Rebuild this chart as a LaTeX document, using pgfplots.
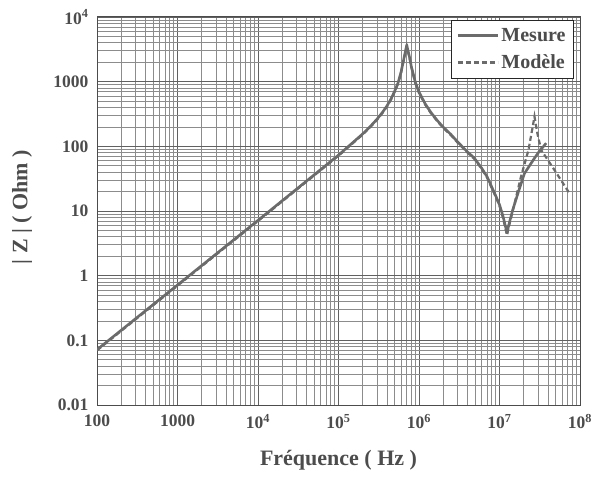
\documentclass[border=0pt]{standalone}
\usepackage{fontspec}
\setmainfont{Liberation Serif}
\usepackage{pgfplots}
\usepackage{pgfplotstable}
\pgfplotsset{compat=1.18}
\definecolor{curve}{gray}{0.42}
\definecolor{txt}{gray}{0.30}
\pgfplotstableread{
f Z
100 0.0717
1000 0.717
10000 7.17
100000 73.2
200000 156
250000 205
300000 262
350000 333
400000 422
450000 544
500000 720
550000 960
600000 1430
650000 2300
680000 3000
705000 3700
730000 3000
760000 2450
800000 1750
900000 980
1000000 692
1200000 449
1400000 337
1700000 248
2000000 198
2500000 152
3000000 118
4000000 82
4860000 66
6000000 46
7000000 34
7840000 25
9000000 17
10000000 12.5
11000000 8.5
12400000 4.6
13000000 6.0
14600000 10.4
17000000 19
20400000 38
25000000 56
29900000 78
38000000 112
}\mesure
\pgfplotstableread{
f Z
100 0.0700
1000 0.700
10000 7.00
100000 71.5
200000 152
250000 200
300000 256
350000 325
400000 412
450000 532
500000 700
550000 935
600000 1390
650000 2230
680000 2900
705000 3550
730000 2900
760000 2380
800000 1700
900000 950
1000000 670
1200000 437
1400000 328
1700000 242
2000000 193
2500000 148
3000000 115
4000000 80
4860000 64
6000000 45
7000000 33
7840000 24
9000000 16.5
10000000 12
11000000 8.0
12400000 4.2
13000000 5.6
14600000 10
18500000 34
22900000 88
25000000 160
27200000 288
29500000 160
32900000 88
48200000 43
74000000 18.8
}\modele
\begin{document}
\begin{tikzpicture}
\begin{loglogaxis}[
  scale only axis, width=483bp, height=388bp,
  xmin=100, xmax=1e8, ymin=0.01, ymax=1e4,
  xtick={1e2,1e3,1e4,1e5,1e6,1e7,1e8},
  xticklabels={100,1000,10\textsuperscript{4},10\textsuperscript{5},10\textsuperscript{6},10\textsuperscript{7},10\textsuperscript{8}},
  ytick={1e-2,1e-1,1,1e1,1e2,1e3,1e4},
  yticklabels={0.01,0.1,1,10,100,1000,10\textsuperscript{4}},
  minor xtick={2e2,3e2,4e2,5e2,6e2,7e2,8e2,9e2,2e3,3e3,4e3,5e3,6e3,7e3,8e3,9e3,2e4,3e4,4e4,5e4,6e4,7e4,8e4,9e4,2e5,3e5,4e5,5e5,6e5,7e5,8e5,9e5,2e6,3e6,4e6,5e6,6e6,7e6,8e6,9e6,2e7,3e7,4e7,5e7,6e7,7e7,8e7,9e7},
  minor ytick={2e-2,3e-2,4e-2,5e-2,6e-2,7e-2,8e-2,9e-2,2e-1,3e-1,4e-1,5e-1,6e-1,7e-1,8e-1,9e-1,2,3,4,5,6,7,8,9,20,30,40,50,60,70,80,90,200,300,400,500,600,700,800,900,2000,3000,4000,5000,6000,7000,8000,9000},
  grid=both,
  major grid style={black!62, line width=0.9bp},
  minor grid style={black!45, line width=0.7bp},
  major tick length=0pt, minor tick length=0pt,
  axis line style={black!70, line width=1bp},
  /pgf/number format/assume math mode=true,
  tick label style={font=\fontsize{17.5bp}{20bp}\selectfont\bfseries, text=txt},
  xticklabel style={yshift=-6bp},
  yticklabel style={xshift=-5bp},
  xlabel={Fréquence ( Hz )},
  ylabel={| Z | ( Ohm )},
  label style={font=\fontsize{22bp}{26bp}\selectfont\bfseries, text=txt},
  xlabel style={at={(axis description cs:0.5,-0.141)}, anchor=center},
  ylabel style={at={(axis description cs:-0.155,0.51)}, anchor=center},
  legend style={at={(0.986,0.992)}, anchor=north east, draw=black!85, fill=white,
    font=\fontsize{20bp}{23bp}\selectfont\bfseries, text=txt,
    inner xsep=5bp, inner ysep=6bp, row sep=8bp,
    nodes={inner xsep=2.5bp, inner ysep=2bp}},
  legend cell align=left,
  legend image code/.code={\draw[/tikz/.cd,#1,/tikz/line width=2.3bp] (0bp,0bp) -- (40bp,0bp);},
]
\addplot[curve, line width=2.6bp, line join=round] table[x=f, y=Z] {\mesure};
\addlegendentry{Mesure}
\addplot[curve, line width=2.2bp, dash pattern=on 5bp off 3bp] table[x=f, y=Z] {\modele};
\addlegendentry{Modèle}
\end{loglogaxis}
\pgfresetboundingbox
\path[use as bounding box] (-97bp,-72bp) rectangle (494bp,405bp);
\end{tikzpicture}
\end{document}
